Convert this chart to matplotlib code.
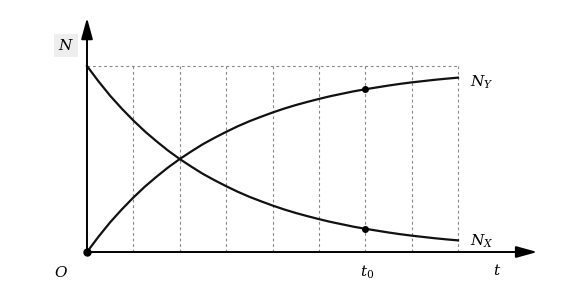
import matplotlib.pyplot as plt

plt.rcParams['mathtext.fontset'] = 'dejavuserif'

# tiempo en unidades de rejilla (N0 = 1)
t_vals = [0, 0.25, 0.5, 0.75, 1, 1.25, 1.5, 1.75, 2, 2.25, 2.5, 2.75, 3, 3.25,
          3.5, 3.75, 4, 4.25, 4.5, 4.75, 5, 5.25, 5.5, 5.75, 6, 6.25, 6.5,
          6.75, 7, 7.25, 7.5, 7.75, 8]
n_x = [1.0, 0.917, 0.84, 0.771, 0.707, 0.648, 0.595, 0.545, 0.50, 0.459, 0.42,
       0.386, 0.354, 0.324, 0.297, 0.273, 0.25, 0.229, 0.21, 0.193, 0.177,
       0.162, 0.149, 0.136, 0.125, 0.115, 0.105, 0.096, 0.088, 0.081, 0.074,
       0.068, 0.0625]
n_y = [1 - v for v in n_x]
grid_t = [1, 2, 3, 4, 5, 6, 7, 8]
t0 = 6
n_x_t0 = 0.125
n_y_t0 = 0.875

fig = plt.figure(figsize=(5.81, 3.0), dpi=100)
ax = fig.add_axes([0, 0, 1, 1])
ax.set_xlim(-1.876, 10.652)
ax.set_ylim(-0.258, 1.355)
ax.axis('off')

# rejilla punteada
for g in grid_t:
    ax.plot([g, g], [0, 1], ls=(0, (2.5, 2.5)), color='#888888', lw=0.8)
ax.plot([0, 8], [1, 1], ls=(0, (2.5, 2.5)), color='#888888', lw=0.8)

# ejes con flechas
ax.annotate('', xy=(9.77, 0), xytext=(0, 0),
            arrowprops=dict(arrowstyle='-|>,head_length=0.8,head_width=0.22',
                            color='black', lw=1.4, mutation_scale=16))
ax.annotate('', xy=(0, 1.274), xytext=(0, 0),
            arrowprops=dict(arrowstyle='-|>,head_length=0.8,head_width=0.22',
                            color='black', lw=1.4, mutation_scale=16))

# curvas
ax.plot(t_vals, n_x, color='#111111', lw=1.6)
ax.plot(t_vals, n_y, color='#111111', lw=1.6)
ax.plot([0], [0], 'o', color='black', ms=5)
ax.plot([t0, t0], [n_x_t0, n_y_t0], 'o', color='black', ms=4)

# etiquetas
ax.text(-0.45, 1.11, '$N$', fontsize=11, ha='center', va='center',
        bbox=dict(facecolor='#eeeeee', edgecolor='none', pad=3))
ax.text(8.25, 0.915, '$N_Y$', fontsize=11, ha='left', va='center')
ax.text(8.25, 0.06, '$N_X$', fontsize=11, ha='left', va='center')
ax.text(-0.55, -0.11, '$O$', fontsize=11, ha='center', va='center')
ax.text(t0 + 0.05, -0.11, '$t_0$', fontsize=11, ha='center', va='center')
ax.text(8.85, -0.10, '$t$', fontsize=11, ha='center', va='center')

plt.savefig('out.png', dpi=100)
